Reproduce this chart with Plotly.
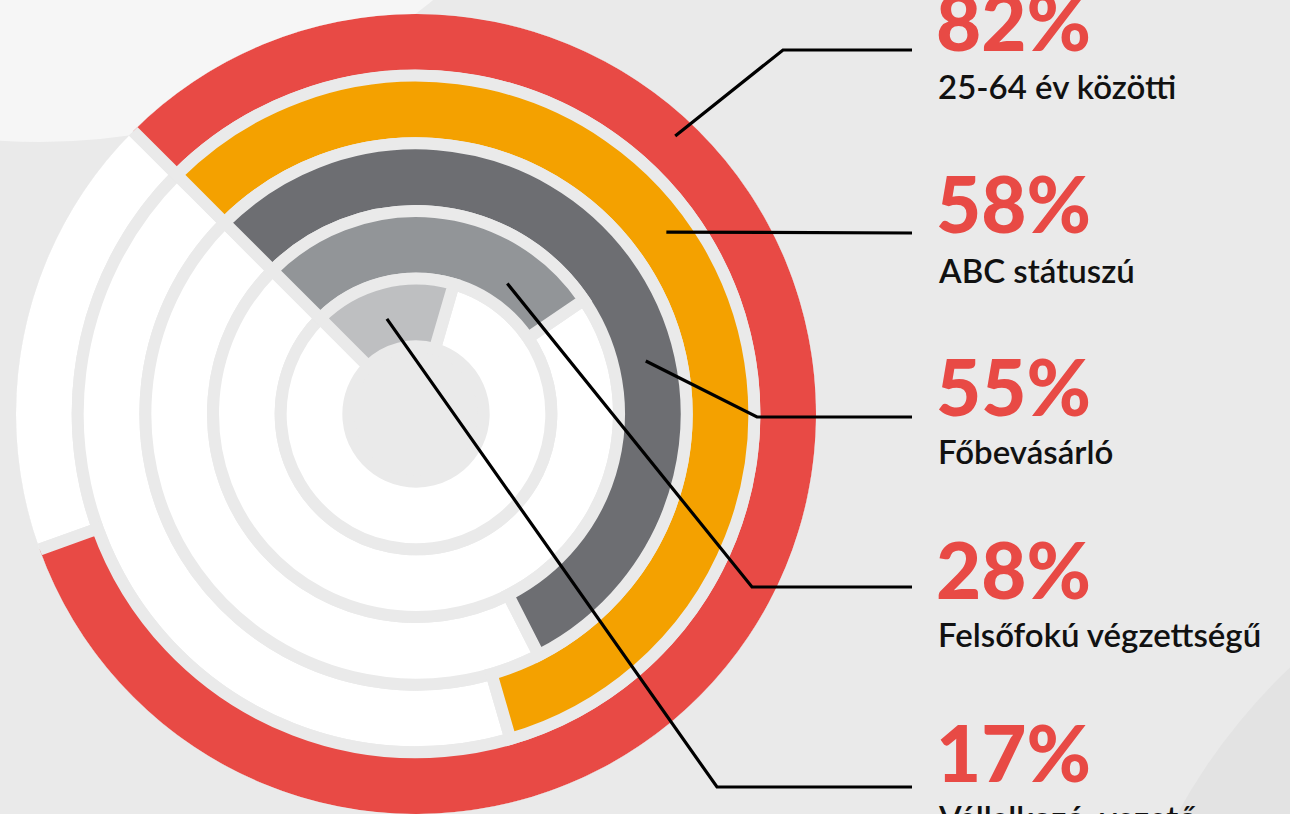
import math
import plotly.graph_objects as go

# data
categories = ["25-64 év közötti", "ABC státuszú", "Főbevásárló",
              "Felsőfokú végzettségű", "Vállalkozó, vezető"]
shares = [82, 58, 55, 28, 17]
ring_colors = ["#e84a45", "#f4a100", "#6d6e72", "#929598", "#bebfc1"]
pct_labels = [f"{v}%" for v in shares]

W, H = 1290, 814
BG = "#eaeaea"
START = 315          # rings start at north-west, run clockwise
HOLE = 68            # radius of the empty centre (radial units)
STEP = 68            # ring pitch (incl. gap)
GAP = 12             # gap drawn as background-coloured outline

n = len(shares)
base = [HOLE + (n - 1 - i) * STEP for i in range(n)]
span = [v * 3.6 for v in shares]
rest = [360 - s for s in span]
theta_on = [START + s / 2 for s in span]
theta_off = [START + s + r / 2 for s, r in zip(span, rest)]


def fx(px):
    return px / W


def fy(py):
    return 1 - py / H


fig = go.Figure()

fig.add_trace(go.Barpolar(
    r=[STEP] * n, base=base, theta=theta_off, width=rest,
    marker=dict(color="#ffffff", line=dict(color=BG, width=GAP)),
    hoverinfo="skip", showlegend=False))

fig.add_trace(go.Barpolar(
    r=[STEP] * n, base=base, theta=theta_on, width=span,
    marker=dict(color=ring_colors, line=dict(color=BG, width=GAP)),
    text=categories, customdata=pct_labels,
    hovertemplate="%{text}: %{customdata}<extra></extra>",
    showlegend=False))

# polar placement: centre at (416, 414) px, radius 400 px
R_MAX = 402
cx, cy, rad = 416, 414, 400
fig.update_layout(
    polar=dict(
        domain=dict(x=[fx(cx - rad), fx(cx + rad)], y=[fy(cy + rad), fy(cy - rad)]),
        bgcolor="rgba(0,0,0,0)",
        radialaxis=dict(visible=False, range=[0, R_MAX], showgrid=False),
        angularaxis=dict(visible=False, direction="clockwise", rotation=90,
                         showgrid=False),
    )
)

# background decoration
shapes = [
    dict(type="circle", xref="paper", yref="paper", layer="below",
         x0=fx(40 - 615), x1=fx(40 + 615), y0=fy(-473 + 615), y1=fy(-473 - 615),
         fillcolor="#f6f6f6", line=dict(width=0)),
    dict(type="circle", xref="paper", yref="paper", layer="below",
         x0=fx(1700 - 596), x1=fx(1700 + 596), y0=fy(1100 + 596), y1=fy(1100 - 596),
         fillcolor="#e3e3e3", line=dict(width=0)),
]

# leader lines: start on the ring, elbow, then horizontal to the labels
anchor_deg = [43, 54, 77, 35, 343]
anchor_r = [382, 311, 237, 160, 100]
elbows = [(783, 50), (None, 233), (757, 417), (752, 587), (717, 787)]
LINE_END = 912
scale = rad / R_MAX
for a, r, (ex, ey) in zip(anchor_deg, anchor_r, elbows):
    sx = cx + r * scale * math.sin(math.radians(a))
    sy = cy - r * scale * math.cos(math.radians(a))
    pts = [(sx, sy)]
    if ex is not None:
        pts.append((ex, ey))
    pts.append((LINE_END, ey))
    path = "M " + " L ".join(f"{fx(x):.5f},{fy(y):.5f}" for x, y in pts)
    shapes.append(dict(type="path", xref="paper", yref="paper", path=path,
                       line=dict(color="#000000", width=3.2)))

fig.update_layout(shapes=shapes)

# labels
TX = 934
pct_y = [21, 203, 386, 569, 752]
lab_y = [86, 270, 451, 634, 817]
for p, lab, py, ly in zip(pct_labels, categories, pct_y, lab_y):
    fig.add_annotation(x=fx(TX), y=fy(py), xref="paper", yref="paper",
                       xanchor="left", yanchor="middle", showarrow=False,
                       text=p,
                       font=dict(family="Lato", size=78, weight=900, color="#e84a45"))
    fig.add_annotation(x=fx(TX + 2), y=fy(ly), xref="paper", yref="paper",
                       xanchor="left", yanchor="middle", showarrow=False,
                       text=lab,
                       font=dict(family="Lato", size=33, weight=600, color="#111111"))

fig.update_layout(
    width=W, height=H,
    margin=dict(l=0, r=0, t=0, b=0),
    paper_bgcolor=BG, plot_bgcolor=BG,
    showlegend=False,
)

fig.write_html("out.html", config={"displayModeBar": False},
               post_script="document.body.style.margin='0';")
